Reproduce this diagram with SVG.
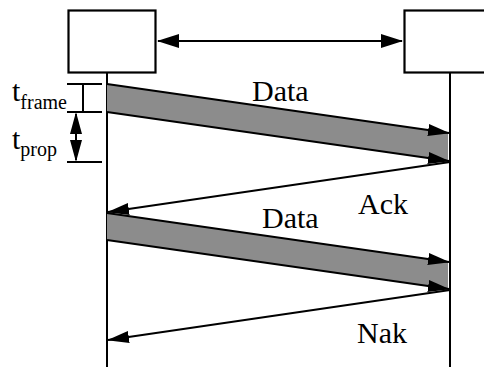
<svg xmlns="http://www.w3.org/2000/svg" width="484" height="367" viewBox="0 0 484 367">
<style>
.ln{stroke:#000;stroke-width:2;fill:none}
.box{stroke:#000;stroke-width:2.2;fill:#fff}
.lbl{font-family:"Liberation Serif","Times New Roman",serif;font-size:30px;fill:#000}
.sub{font-size:20px}
.band{fill:#8c8c8c;stroke:none}
</style>
<defs>
<marker id="ah" markerUnits="userSpaceOnUse" markerWidth="22" markerHeight="12" refX="21" refY="6" orient="auto" viewBox="0 0 22 12">
<path d="M0,0 L22,6 L0,12 z" fill="#000"/>
</marker>
<marker id="ahs" markerUnits="userSpaceOnUse" markerWidth="22" markerHeight="14" refX="21" refY="7" orient="auto-start-reverse" viewBox="0 0 22 14">
<path d="M0,0 L22,7 L0,14 z" fill="#000"/>
</marker>
</defs>
<g id="nodeA"><rect class="box" x="68.5" y="10.5" width="87" height="62"/></g>
<g id="nodeB"><rect class="box" x="404.5" y="10.5" width="90" height="62"/></g>
<g id="lifelines">
<line class="ln" x1="107" y1="72" x2="107" y2="367"/>
<line class="ln" x1="450" y1="72" x2="450" y2="367"/>
</g>
<g id="bands">
<polygon class="band" points="107,84 448,133 448,161 107,112"/>
<polygon class="band" points="107,213 448,262 448,289 107,240"/>
</g>
<g id="connectors">
<line class="ln" x1="158" y1="41" x2="402" y2="41" marker-start="url(#ahs)" marker-end="url(#ahs)"/>
<line class="ln" x1="107" y1="84" x2="449" y2="133" marker-end="url(#ah)"/>
<line class="ln" x1="107" y1="112" x2="449" y2="161" marker-end="url(#ah)"/>
<line class="ln" x1="450" y1="162" x2="108" y2="212" marker-end="url(#ah)"/>
<line class="ln" x1="107" y1="213" x2="449" y2="262" marker-end="url(#ah)"/>
<line class="ln" x1="107" y1="240" x2="449" y2="289" marker-end="url(#ah)"/>
<line class="ln" x1="450" y1="290" x2="108" y2="340" marker-end="url(#ah)"/>
</g>
<g id="timing">
<line class="ln" x1="67" y1="84" x2="102" y2="84"/>
<line class="ln" x1="67" y1="112" x2="102" y2="112"/>
<line class="ln" x1="67" y1="162" x2="102" y2="162"/>
<line class="ln" x1="83" y1="84" x2="83" y2="112"/>
<line class="ln" x1="76" y1="114" x2="76" y2="160"/>
<path d="M76,112 L70,134 L82,134 z" fill="#000"/>
<path d="M76,162 L70,140 L82,140 z" fill="#000"/>
</g>
<g id="labels">
<text class="lbl" x="252" y="101">Data</text>
<text class="lbl" x="358" y="214">Ack</text>
<text class="lbl" x="262" y="228">Data</text>
<text class="lbl" x="357" y="343">Nak</text>
<text class="lbl" x="12" y="101">t<tspan class="sub" dy="8">frame</tspan></text>
<text class="lbl" x="12" y="149">t<tspan class="sub" dy="7">prop</tspan></text>
</g>
</svg>
